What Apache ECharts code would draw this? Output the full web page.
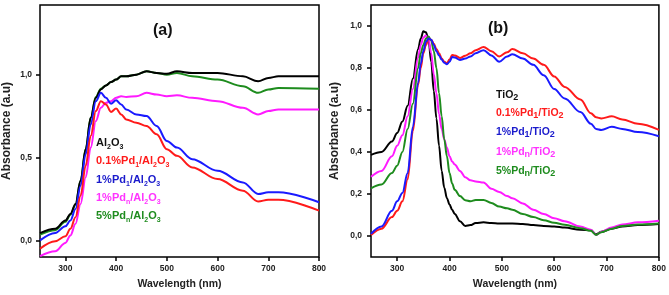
<!DOCTYPE html>
<html>
<head>
<meta charset="utf-8">
<script src="https://cdn.jsdelivr.net/npm/echarts@6/dist/echarts.min.js"></script>
<style>
html,body{margin:0;padding:0;background:#fff;}
#c{width:669px;height:295px;}
</style>
</head>
<body>
<div id="c"></div>
<script>
// ---------- Panel (a): Al2O3 supports ----------
const wlA = [250,280,300,310,320,330,340,350,360,370,380,390,400,410,420,440,460,480,500,520,550,600,650,680,700,720,800];
const a_Al2O3   = [.044,.07,.12,.16,.22,.36,.55,.74,.86,.91,.935,.955,.97,.99,.99,1.0,1.02,1.01,1.005,1.02,1.01,1.01,.99,.96,.98,.99,.99];
const a_01Pd1   = [-.05,-.005,.025,.07,.14,.27,.45,.63,.78,.84,.82,.775,.795,.76,.73,.71,.69,.64,.55,.51,.44,.37,.30,.235,.245,.245,.18];
const a_1Pd1    = [0,.045,.085,.12,.19,.33,.52,.70,.84,.89,.86,.825,.845,.82,.79,.76,.75,.69,.60,.56,.49,.42,.35,.28,.29,.29,.23];
const a_1Pdn    = [-.095,-.065,-.015,.03,.10,.22,.38,.56,.72,.80,.83,.84,.86,.87,.865,.87,.89,.88,.87,.875,.86,.84,.80,.76,.78,.79,.79];
const a_5Pdn    = [.035,.062,.112,.155,.215,.36,.55,.74,.865,.915,.935,.955,.97,.99,.99,1.0,1.02,1.01,1.0,1.01,.99,.97,.93,.89,.91,.92,.915];

// ---------- Panel (b): TiO2 supports ----------
const wlB = [250,270,290,300,310,320,330,340,345,350,355,360,365,370,375,380,385,390,395,400,405,410,420,430,440,450,465,480,495,510,520,540,560,580,600,620,650,670,680,690,710,730,760,800];
const b_TiO2  = [.386,.40,.45,.49,.545,.62,.75,.89,.94,.975,.97,.93,.83,.69,.56,.43,.31,.23,.18,.15,.125,.105,.07,.048,.052,.062,.065,.062,.06,.06,.06,.057,.052,.048,.045,.04,.03,.027,.008,.02,.035,.045,.052,.057];
const b_01Pd1 = [.005,.035,.09,.12,.165,.27,.50,.72,.80,.87,.91,.94,.935,.915,.89,.87,.845,.83,.822,.84,.862,.86,.848,.858,.87,.885,.90,.88,.855,.875,.89,.87,.845,.815,.76,.71,.65,.585,.565,.56,.57,.555,.535,.505];
const b_1Pd1  = [.01,.045,.12,.165,.205,.30,.52,.73,.82,.88,.925,.94,.935,.91,.88,.86,.84,.825,.818,.83,.852,.85,.838,.845,.855,.87,.885,.86,.83,.855,.865,.845,.815,.765,.70,.655,.59,.535,.51,.505,.52,.51,.495,.475];
const b_1Pdn  = [.282,.31,.38,.43,.48,.57,.70,.85,.91,.945,.955,.935,.87,.77,.68,.58,.51,.46,.42,.38,.355,.34,.31,.28,.265,.26,.255,.225,.21,.19,.18,.155,.125,.105,.085,.07,.045,.03,.005,.02,.04,.055,.065,.073];
const b_5Pdn  = [.227,.245,.30,.335,.40,.51,.63,.80,.87,.91,.94,.95,.93,.88,.80,.68,.57,.46,.38,.30,.25,.22,.19,.17,.165,.172,.172,.157,.14,.132,.125,.105,.09,.075,.063,.053,.037,.025,.005,.018,.035,.048,.055,.06];

// tick labels
const xTicks = [300,400,500,600,700,800];
const yTicksA = [0,0.5,1.0];
const yTicksB = [0,0.2,0.4,0.6,0.8,1.0];

const COLORS = {black:'#000000', red:'#ff1a1a', blue:'#1a1aff', magenta:'#ff1aff', green:'#1e8c1e'};
const FONT = 'Liberation Sans, Arial, sans-serif';

function pairs(xs, ys){ return xs.map((x,i)=>[x, ys[i]]); }
function fmt(v){ return v.toFixed(1).replace('.', ','); }

function xAxisCfg(gi){
  return {
    type:'value', gridIndex:gi, min:250, max:800, position:'bottom',
    name:'Wavelength (nm)', nameLocation:'middle', nameGap:22,
    nameTextStyle:{fontFamily:FONT, fontWeight:'bold', fontSize:10.5, color:'#222'},
    axisLine:{show:false, onZero:false},
    axisTick:{show:true, inside:false, length:4, lineStyle:{color:'#000', width:1.5}, customValues:xTicks},
    axisLabel:{show:true, margin:7, fontFamily:FONT, fontWeight:'bold', fontSize:8.5, color:'#222', customValues:xTicks},
    splitLine:{show:false}
  };
}
function yAxisCfg(gi, min, max, ticks, gap, margin){
  return {
    type:'value', gridIndex:gi, min:min, max:max, position:'left',
    name:'Absorbance (a.u)', nameLocation:'middle', nameGap:gap,
    nameTextStyle:{fontFamily:FONT, fontWeight:'bold', fontSize:12, color:'#222'},
    axisLine:{show:false, onZero:false},
    axisTick:{show:true, inside:false, length:4, lineStyle:{color:'#000', width:1.5}, customValues:ticks},
    axisLabel:{show:true, margin:margin, fontFamily:FONT, fontWeight:'bold', fontSize:8.5, color:'#222', customValues:ticks, formatter:fmt},
    splitLine:{show:false}
  };
}
function line(xi, yi, xs, ys, color){
  return {
    type:'line', xAxisIndex:xi, yAxisIndex:yi, data:pairs(xs, ys),
    showSymbol:false, smooth:0.35, smoothMonotone:'x',
    lineStyle:{color:color, width:2}, itemStyle:{color:color}, silent:true, animation:false
  };
}

function legendText(x, y, parts, color, size, subSize, lh){
  return {
    type:'text', left:x, top:y,
    style:{
      text: parts, fill:color,
      fontFamily:FONT, fontWeight:'bold', fontSize:size,
      rich:{
        m:{fontFamily:FONT, fontWeight:'bold', fontSize:size, fill:color, lineHeight:lh, verticalAlign:'middle'},
        s:{fontFamily:FONT, fontWeight:'bold', fontSize:subSize, fill:color, lineHeight:subSize, verticalAlign:'bottom'}
      }
    }
  };
}

const chart = echarts.init(document.getElementById('c'), null, {renderer:'canvas'});
const option = {
  animation:false,
  backgroundColor:'#ffffff',
  grid:[
    {left:34, top:5, width:285, height:252, show:true, borderColor:'#000', borderWidth:1.5, backgroundColor:'transparent'},
    {left:371, top:5, width:289, height:252, show:true, borderColor:'#000', borderWidth:1.5, backgroundColor:'transparent'}
  ],
  xAxis:[xAxisCfg(0), xAxisCfg(1)],
  yAxis:[yAxisCfg(0, -0.1, 1.42, yTicksA, 27, 8), yAxisCfg(1, -0.1, 1.1, yTicksB, 30, 9)],
  series:[
    line(0,0,wlA,a_5Pdn,COLORS.green),
    line(0,0,wlA,a_Al2O3,COLORS.black),
    line(0,0,wlA,a_1Pdn,COLORS.magenta),
    line(0,0,wlA,a_1Pd1,COLORS.blue),
    line(0,0,wlA,a_01Pd1,COLORS.red),
    line(1,1,wlB,b_TiO2,COLORS.black),
    line(1,1,wlB,b_1Pdn,COLORS.magenta),
    line(1,1,wlB,b_5Pdn,COLORS.green),
    line(1,1,wlB,b_01Pd1,COLORS.red),
    line(1,1,wlB,b_1Pd1,COLORS.blue)
  ],
  graphic:[
    {type:'text', left:153, top:23, style:{text:'(a)', fontFamily:FONT, fontWeight:'bold', fontSize:16, fill:'#111'}},
    {type:'text', left:488, top:21, style:{text:'(b)', fontFamily:FONT, fontWeight:'bold', fontSize:16, fill:'#111'}},
    legendText(96, 137, '{m|Al}{s|2}{m|O}{s|3}', '#111', 11, 7, 16),
    legendText(96, 155, '{m|0.1%Pd}{s|1}{m|/Al}{s|2}{m|O}{s|3}', '#ff1a1a', 11, 7, 16),
    legendText(96, 174, '{m|1%Pd}{s|1}{m|/Al}{s|2}{m|O}{s|3}', '#1a1acc', 11, 7, 16),
    legendText(96, 192, '{m|1%Pd}{s|n}{m|/Al}{s|2}{m|O}{s|3}', '#ff33ff', 11, 7, 16),
    legendText(96, 210, '{m|5%Pd}{s|n}{m|/Al}{s|2}{m|O}{s|3}', '#1e8c1e', 11, 7, 16),
    legendText(496, 90, '{m|TiO}{s|2}', '#111', 10.5, 9, 14),
    legendText(496, 108, '{m|0.1%Pd}{s|1}{m|/TiO}{s|2}', '#ff1a1a', 10.5, 9, 14),
    legendText(496, 127, '{m|1%Pd}{s|1}{m|/TiO}{s|2}', '#1a1acc', 10.5, 9, 14),
    legendText(496, 147, '{m|1%Pd}{s|n}{m|/TiO}{s|2}', '#ff33ff', 10.5, 9, 14),
    legendText(496, 166, '{m|5%Pd}{s|n}{m|/TiO}{s|2}', '#1e8c1e', 10.5, 9, 14)
  ]
};
chart.setOption(option);
</script>
</body>
</html>
